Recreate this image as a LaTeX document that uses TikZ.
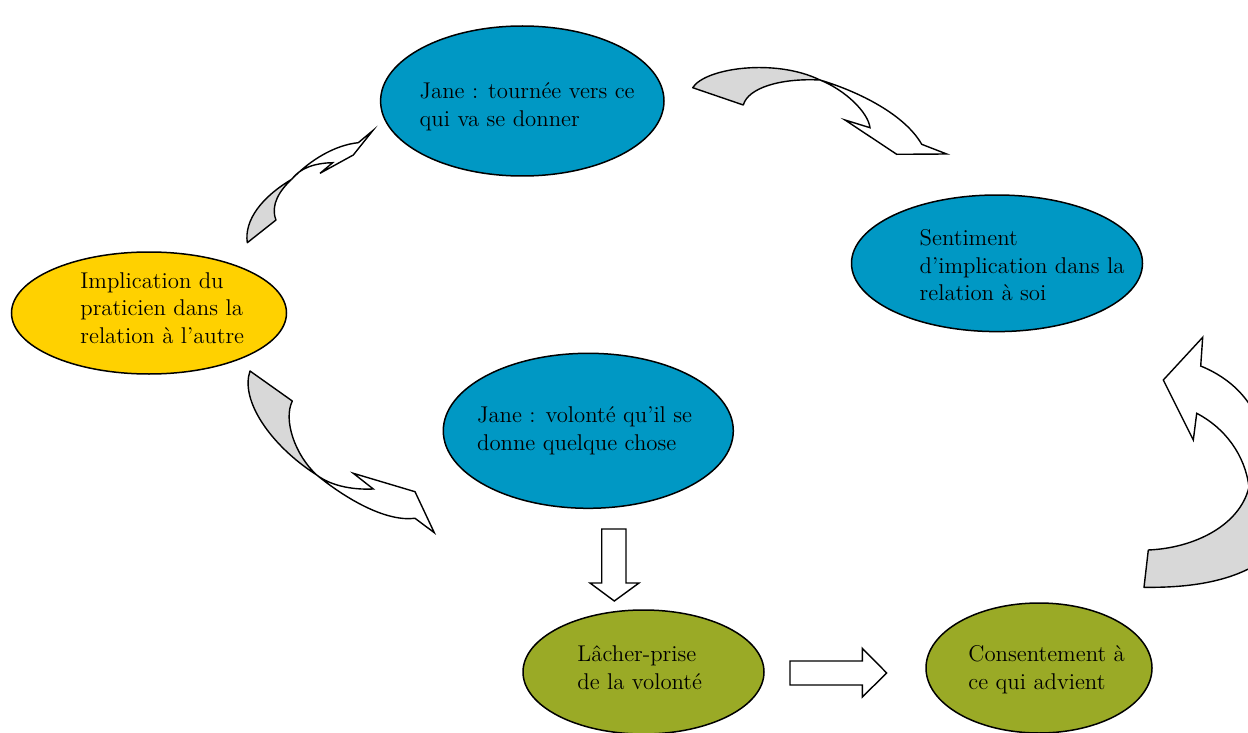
\documentclass[tikz,border=0pt]{standalone}
\usepackage{fontspec}
\usetikzlibrary{shapes.geometric}
\definecolor{cblue}{RGB}{0,152,196}
\definecolor{cyellow}{RGB}{255,209,0}
\definecolor{cgreen}{RGB}{154,170,38}
\definecolor{cgray}{RGB}{216,216,216}
\begin{document}
\begin{tikzpicture}[x=0.5pt,y=-0.5pt,
  bubble/.style={ellipse, draw=black, line width=0.75pt, inner sep=0pt},
  txt/.style={anchor=base west, align=left, inner sep=0pt, font=\fontsize{11.4}{13.75}\selectfont},
  under/.style={fill=cgray, draw=black, line width=0.7pt, line join=round},
  over/.style={fill=white, draw=black, line width=0.7pt, line join=miter},
  block/.style={fill=white, draw=black, line width=0.7pt}]
\useasboundingbox (0,0) rectangle (1248,733);
\clip (0,0) rectangle (1248,733);

% ellipses
\node[bubble, fill=cblue, minimum width=141.7pt, minimum height=75pt] (e1) at (522.3,101) {};
\node[bubble, fill=cblue, minimum width=145.5pt, minimum height=68.3pt] (e2) at (997,263.3) {};
\node[bubble, fill=cyellow, minimum width=137.5pt, minimum height=61pt] (e3) at (149,313) {};
\node[bubble, fill=cblue, minimum width=145pt, minimum height=77.5pt] (e4) at (588.3,430.8) {};
\node[bubble, fill=cgreen, minimum width=120.5pt, minimum height=62pt] (e5) at (643.5,672) {};
\node[bubble, fill=cgreen, minimum width=113pt, minimum height=65pt] (e6) at (1039,668) {};

% texts (anchor = baseline of the last line)
\node[txt] (t1) at (419.3,126.5) {Jane : tournée vers ce\\qui va se donner};
\node[txt] (t2) at (919.3,300.7) {Sentiment\\d’implication dans la\\relation à soi};
\node[txt] (t3) at (80,343.3) {Implication du\\praticien dans la\\relation à l’autre};
\node[txt] (t4) at (476.7,450) {Jane : volonté qu’il se\\donne quelque chose};
\node[txt] (t5) at (577,689) {Lâcher-prise\\de la volonté};
\node[txt] (t6) at (968,689.3) {Consentement à\\ce qui advient};

% curved arrow A (yellow -> top)
\draw[under] (247.3,242.7) .. controls (244,220) and (262,197) .. (291.7,179.3)
  .. controls (280,190) and (270,205) .. (276,220) -- cycle;
\draw[over] (291.7,179.3) .. controls (310,160) and (335,145) .. (358.3,142.7)
  -- (372.7,130.7) -- (353.3,155) -- (320,173.3) -- (332.7,162.7)
  .. controls (315,163) and (300,168) .. (291.7,179.3) -- cycle;

% curved arrow B (top -> right)
\draw[under] (692.7,87.7) .. controls (705,68) and (775,58) .. (820,80)
  .. controls (780,78) and (748,88) .. (743.3,105) -- cycle;
\draw[over] (820,80) .. controls (860,92) and (905,115) .. (921.7,144.3)
  -- (946.7,154) -- (896.7,154.3) -- (845,120) -- (870,127.7)
  .. controls (868,112) and (845,90) .. (820,80) -- cycle;

% curved arrow C (yellow -> middle)
\draw[under] (250,371) .. controls (240,400) and (270,445) .. (316.7,475)
  .. controls (295,455) and (283,420) .. (292.3,401) -- cycle;
\draw[over] (316.7,475) .. controls (345,498) and (385,522) .. (415,518.3)
  -- (434.3,532.7) -- (415,491.7) -- (353.3,473.3) -- (373.3,489)
  .. controls (350,490) and (330,485) .. (316.7,475) -- cycle;

% curved arrow D (bottom right -> right)
\draw[under] (1148.3,550) .. controls (1195,548) and (1240,525) .. (1249,487)
  -- (1270,487) -- (1270,555) .. controls (1240,580) and (1195,588) .. (1144,587.3) -- cycle;
\draw[over] (1249,487) .. controls (1245,455) and (1225,428) .. (1196.7,413.3)
  -- (1193.3,440) -- (1163.3,380) -- (1202.7,337.3) -- (1200.7,366)
  .. controls (1230,378) and (1255,400) .. (1265,440) -- (1265,487) -- cycle;

% block arrows
\draw[block] (601.7,529) -- (626,529) -- (626,583) -- (639,583) -- (614.3,601)
  -- (590,583) -- (601.7,583) -- cycle;
\draw[block] (790,661) -- (862.3,661) -- (862.3,648.3) -- (886.7,673)
  -- (862.3,697) -- (862.3,685) -- (790,685) -- cycle;
\end{tikzpicture}
\end{document}
